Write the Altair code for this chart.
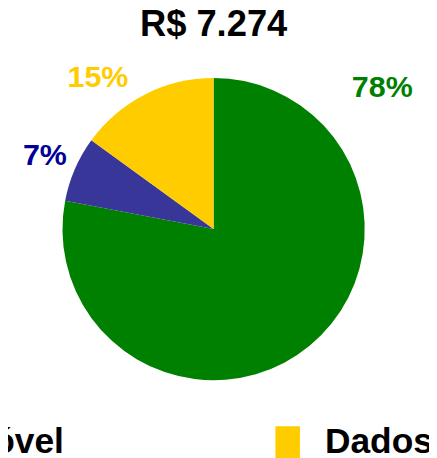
import altair as alt
import pandas as pd

categorias = ["Fixo", "Móvel", "Dados"]
valores = [5674, 509, 1091]
cores = ["#008000", "#383799", "#FFCC00"]
cores_rotulo = ["#008000", "#000099", "#FFCC00"]
titulo = "R$ 7.274"

# label placement (style): radius, angular shift and nudge of each percentage label
raio_rotulo = [221, 183, 190]
desvio_rotulo = [-1.574, 0.0, -0.178]
dx_rotulo = [2, -4, -3]

FONT = "Liberation Sans"

df = pd.DataFrame({
    "categoria": categorias,
    "valor": valores,
    "ordem": list(range(len(categorias))),
})

base = alt.Chart(df).transform_joinaggregate(
    total="sum(valor)"
).transform_calculate(
    rotulo="format(datum.valor / datum.total, '.0%')"
)

theta = alt.Theta("valor:Q", stack=True)
order = alt.Order("ordem:Q", sort="ascending")

pie = base.mark_arc(radius=154).encode(
    theta=theta,
    order=order,
    color=alt.Color(
        "categoria:N",
        sort=categorias,
        scale=alt.Scale(domain=categorias, range=cores),
        legend=alt.Legend(
            title=None,
            orient="none",
            direction="horizontal",
            columns=3,
            legendX=-445,
            legendY=370,
            symbolType="M-1,-1.28L1,-1.28L1,2L-1,2Z",
            symbolSize=625,
            symbolStrokeWidth=0,
            symbolOpacity=1,
            labelFont=FONT,
            labelFontSize=36,
            labelFontWeight="bold",
            labelColor="black",
            labelOffset=20,
            labelLimit=0,
            columnPadding=209,
            padding=0,
        ),
    ),
)

layers = [pie]
for cat, cor, r, off, ddx in zip(categorias, cores_rotulo, raio_rotulo, desvio_rotulo, dx_rotulo):
    layers.append(
        base.mark_text(
            radius=r,
            thetaOffset=off,
            dx=ddx,
            dy=-2,
            font=FONT,
            fontSize=31,
            fontWeight="bold",
            color=cor,
            align="center",
            baseline="middle",
        ).encode(
            theta=theta,
            order=order,
            text="rotulo:N",
            opacity=alt.condition(alt.datum.categoria == cat, alt.value(1), alt.value(0)),
        )
    )

chart = alt.layer(*layers).properties(
    width=411,
    height=342,
    title=alt.TitleParams(
        titulo,
        font=FONT,
        fontSize=37,
        fontWeight="bold",
        color="black",
        anchor="middle",
        offset=8,
    ),
    autosize=alt.AutoSizeParams(type="none"),
    padding={"left": 4, "top": 50, "right": 14, "bottom": 58},
).configure_view(stroke=None)

chart.save("out.html", embed_options={"renderer": "svg", "actions": False})
